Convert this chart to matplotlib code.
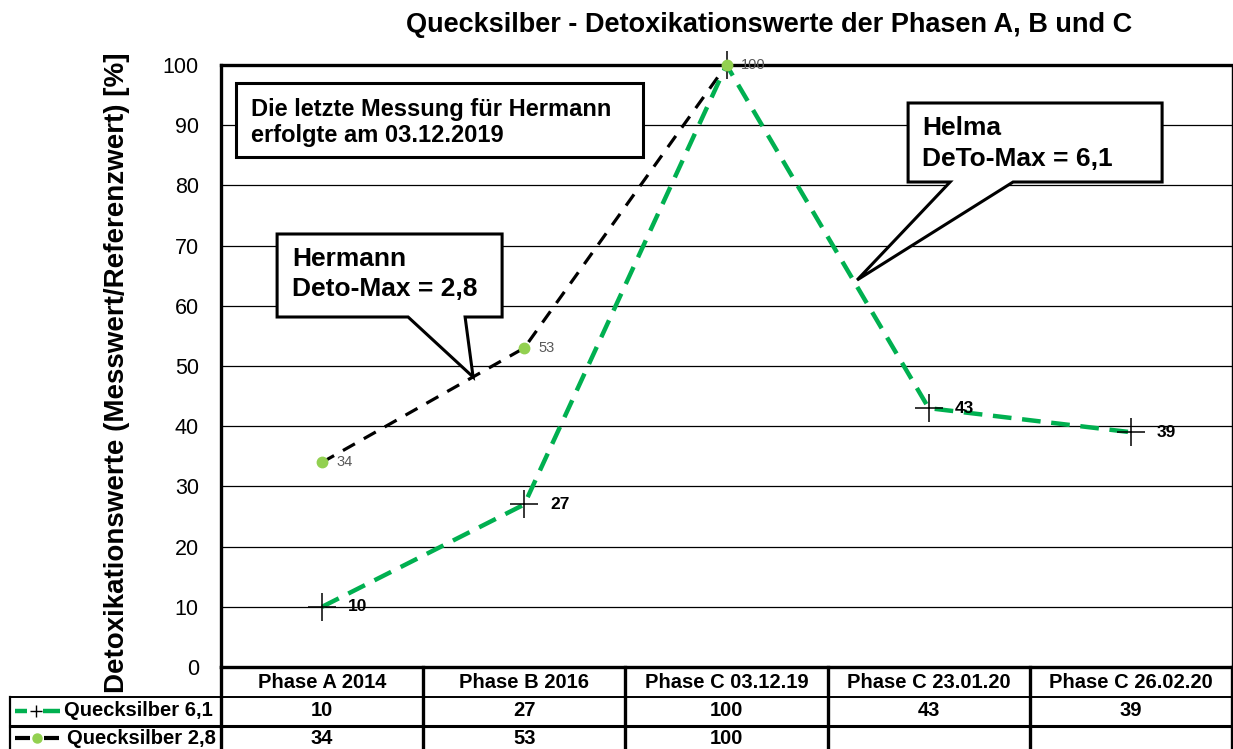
import numpy as np
import matplotlib
matplotlib.use("Agg")
import matplotlib.pyplot as plt
from matplotlib.lines import Line2D
from matplotlib.patches import Polygon
from matplotlib.transforms import blended_transform_factory

# ---------------- data ----------------
categories = ["Phase A 2014", "Phase B 2016", "Phase C 03.12.19",
              "Phase C 23.01.20", "Phase C 26.02.20"]
helma_name = "Quecksilber 6,1"
helma_values = [10, 27, 100, 43, 39]
hermann_name = "Quecksilber 2,8"
hermann_values = [34, 53, 100, np.nan, np.nan]
y_ticks = [0, 10, 20, 30, 40, 50, 60, 70, 80, 90, 100]
title = "Quecksilber - Detoxikationswerte der Phasen A, B und C"
y_label = "Detoxikationswerte (Messwert/Referenzwert) [%]"
note_text = ["Die letzte Messung für Hermann", "erfolgte am 03.12.2019"]
hermann_callout = ["Hermann", "Deto-Max = 2,8"]
helma_callout = ["Helma", "DeTo-Max = 6,1"]
helma_label_shown = [True, True, False, True, True]

# ---------------- style ----------------
FONT = "Liberation Sans"
plt.rcParams["font.family"] = [FONT, "DejaVu Sans"]
GREEN = "#00B050"
LIGHT_GREEN = "#92D050"
W, H = 1233, 749


def fx(px):
    return px / W


def fy(py):
    return 1 - py / H


fig = plt.figure(figsize=(W / 100, H / 100), dpi=100)
ax = fig.add_axes([fx(221), fy(667), 1011 / W, 602 / H])

x = np.arange(len(categories))
ax.set_xlim(-0.5, len(categories) - 0.5)
ax.set_ylim(0, 100)
ax.set_yticks(y_ticks)
ax.set_yticklabels([str(v) for v in y_ticks], fontsize=15.5)
ax.tick_params(axis="y", length=0, pad=16)
ax.set_xticks([])
for yv in y_ticks[1:-1]:
    ax.axhline(yv, color="black", lw=0.9, zorder=1)

for side in ["left", "top", "bottom"]:
    ax.spines[side].set_linewidth(2.4)
ax.spines["right"].set_linewidth(1.0)

# series
ax.plot(x, hermann_values, color="black", lw=2.3, dashes=(4.3, 3.2),
        zorder=3)
ax.plot(x, helma_values, color=GREEN, lw=3.2, dashes=(4.2, 2.4), zorder=3)
ax.plot(x, helma_values, ls="none", marker="+", ms=20, mew=1.1,
        color="black", zorder=4, clip_on=False)
ax.plot(x, hermann_values, ls="none", marker="o", ms=7.5,
        color=LIGHT_GREEN, mec=LIGHT_GREEN, zorder=5, clip_on=False)

for xi, v, show in zip(x, helma_values, helma_label_shown):
    if show:
        ax.annotate(str(v), (xi, v), xytext=(18.5, 0),
                    textcoords="offset points", va="center", ha="left",
                    fontsize=12.5, fontweight="bold", zorder=6)
for xi, v in zip(x, hermann_values):
    if not np.isnan(v):
        ax.annotate(str(int(v)), (xi, v), xytext=(10.5, 0),
                    textcoords="offset points", va="center", ha="left",
                    fontsize=10.5, color="#595959", zorder=6,
                    annotation_clip=False)


# ---------------- callouts ----------------
def dx(px):
    return (px - 322) / 202.2


def dy(py):
    return (667 - py) / 6.02


def callout(left, right, top, bottom, base1=None, base2=None, tip=None):
    pts = [(dx(left), dy(top)), (dx(right), dy(top)),
           (dx(right), dy(bottom))]
    if tip is not None:
        pts += [(dx(base2), dy(bottom)), (dx(tip[0]), dy(tip[1])),
                (dx(base1), dy(bottom))]
    pts += [(dx(left), dy(bottom))]
    poly = Polygon(pts, closed=True, facecolor="white", edgecolor="black",
                   lw=2.2, zorder=7, joinstyle="miter", clip_on=False)
    ax.add_patch(poly)


callout(236, 643, 83, 157)
ax.text(dx(251), dy(116), note_text[0], fontsize=17, fontweight="bold",
        va="baseline", ha="left", zorder=8)
ax.text(dx(251), dy(142), note_text[1], fontsize=17, fontweight="bold",
        va="baseline", ha="left", zorder=8)

callout(277, 502, 234, 317, 408, 465, (473, 377))
ax.text(dx(292), dy(266), hermann_callout[0], fontsize=19, fontweight="bold",
        va="baseline", ha="left", zorder=8)
ax.text(dx(292), dy(296), hermann_callout[1], fontsize=19, fontweight="bold",
        va="baseline", ha="left", zorder=8)

callout(908, 1162, 103, 182, 950, 1013, (857, 280))
ax.text(dx(922), dy(135), helma_callout[0], fontsize=19, fontweight="bold",
        va="baseline", ha="left", zorder=8)
ax.text(dx(922), dy(166), helma_callout[1], fontsize=19, fontweight="bold",
        va="baseline", ha="left", zorder=8)

# ---------------- title / y label ----------------
fig.text(fx(769), fy(25), title, ha="center", va="center", fontsize=19.5,
         fontweight="bold")
fig.text(fx(117), fy(373), y_label, ha="center", va="center", rotation=90,
         fontsize=20, fontweight="bold")

# ---------------- data table ----------------
bt = blended_transform_factory(ax.transData, fig.transFigure)
row_header, row1, row2 = 682, 711, 738
for xi, cat in enumerate(categories):
    fig.text(xi, fy(row_header), cat, transform=bt, ha="center", va="center",
             fontsize=14.5, fontweight="bold")
for xi, v in enumerate(helma_values):
    fig.text(xi, fy(row1), str(v), transform=bt, ha="center", va="center",
             fontsize=14.5, fontweight="bold")
for xi, v in enumerate(hermann_values):
    if not np.isnan(v):
        fig.text(xi, fy(row2), str(int(v)), transform=bt, ha="center",
                 va="center", fontsize=14.5, fontweight="bold")

# column separators
for b in np.arange(-0.5, len(categories) - 0.4, 1.0):
    fig.add_artist(Line2D([b, b], [fy(667), fy(H + 5)], transform=bt,
                          color="black", lw=2.4, clip_on=False))
# row separators
fig.add_artist(Line2D([fx(10), fx(W)], [fy(697), fy(697)],
                      transform=fig.transFigure, color="black", lw=1.4))
fig.add_artist(Line2D([fx(10), fx(W)], [fy(726), fy(726)],
                      transform=fig.transFigure, color="black", lw=2.2))
fig.add_artist(Line2D([fx(10), fx(10)], [fy(697), fy(H + 5)],
                      transform=fig.transFigure, color="black", lw=1.6))

# legend keys in table
fig.add_artist(Line2D([fx(15), fx(27)], [fy(row1)] * 2, transform=fig.transFigure,
                      color=GREEN, lw=3.2, solid_capstyle="butt"))
fig.add_artist(Line2D([fx(43), fx(60)], [fy(row1)] * 2, transform=fig.transFigure,
                      color=GREEN, lw=3.2, solid_capstyle="butt"))
fig.add_artist(Line2D([fx(35.5)], [fy(row1)], transform=fig.transFigure,
                      marker="+", ms=9, mew=1.0, color="black", ls="none"))
fig.text(fx(64), fy(row1), helma_name, ha="left", va="center",
         fontsize=14.5, fontweight="bold")

fig.add_artist(Line2D([fx(15), fx(30)], [fy(row2)] * 2, transform=fig.transFigure,
                      color="black", lw=3.0, solid_capstyle="butt"))
fig.add_artist(Line2D([fx(44), fx(59)], [fy(row2)] * 2, transform=fig.transFigure,
                      color="black", lw=3.0, solid_capstyle="butt"))
fig.add_artist(Line2D([fx(37)], [fy(row2)], transform=fig.transFigure,
                      marker="o", ms=6.5, color=LIGHT_GREEN, mec=LIGHT_GREEN,
                      ls="none"))
fig.text(fx(67), fy(row2), hermann_name, ha="left", va="center",
         fontsize=14.5, fontweight="bold")

fig.savefig("out.png", dpi=100, facecolor="white")
